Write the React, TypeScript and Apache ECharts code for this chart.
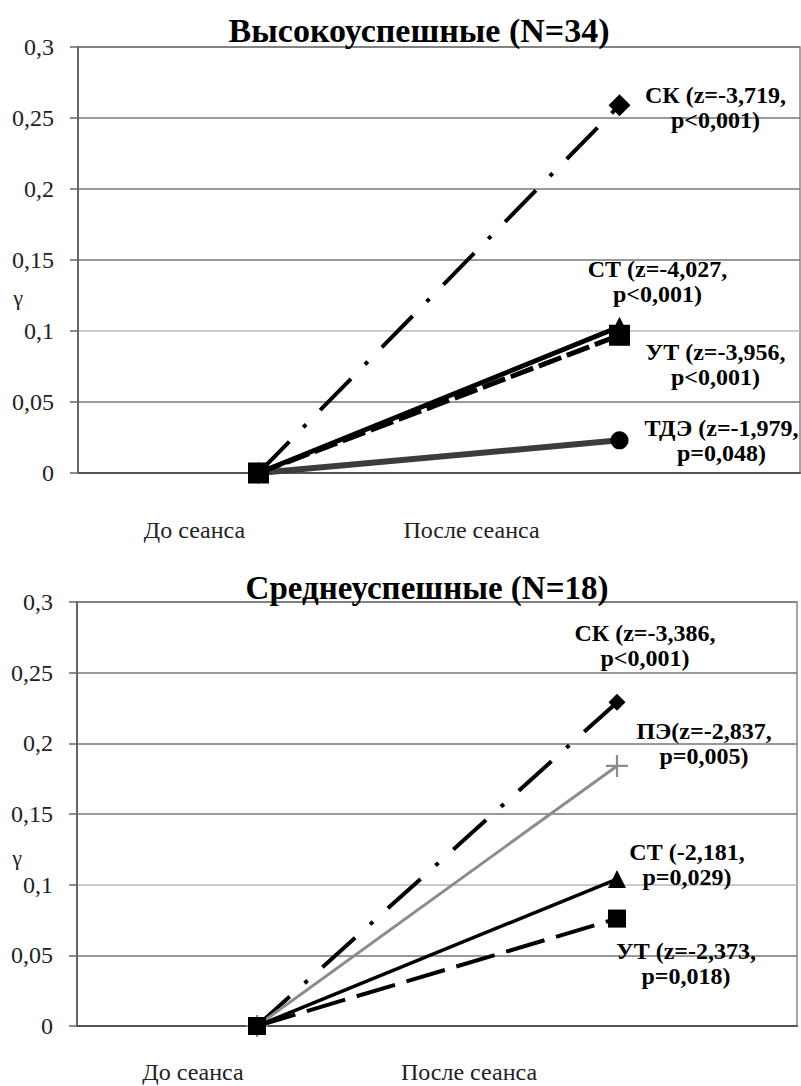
import React, { useEffect, useRef } from "react";
import * as echarts from "echarts";

const categories = ["До сеанса", "После сеанса"];
const topTitle = "Высокоуспешные (N=34)";
const bottomTitle = "Среднеуспешные (N=18)";
const axisName = "γ";

// Top chart (high-success group)
const topSK = [0, 0.259];
const topTDE = [0, 0.023];
const topST = [0, 0.103];
const topUT = [0, 0.097];
const topSKLabel = "СК (z=-3,719,\np<0,001)";
const topTDELabel = "ТДЭ (z=-1,979,\np=0,048)";
const topSTLabel = "СТ (z=-4,027,\np<0,001)";
const topUTLabel = "УТ (z=-3,956,\np<0,001)";

// Bottom chart (medium-success group)
const botSK = [0, 0.229];
const botPE = [0, 0.184];
const botST = [0, 0.104];
const botUT = [0, 0.076];
const botSKLabel = "СК (z=-3,386,\np<0,001)";
const botPELabel = "ПЭ(z=-2,837,\np=0,005)";
const botSTLabel = "СТ (-2,181,\np=0,029)";
const botUTLabel = "УТ (z=-2,373,\np=0,018)";

const FONT = "Liberation Serif";

const plusPath =
  "path://M9,0 L11,0 L11,9 L20,9 L20,11 L11,11 L11,20 L9,20 L9,11 L0,11 L0,9 L9,9 Z";

function mkSeries(
  name: string,
  values: number[],
  labelText: string,
  gridIdx: number,
  opts: {
    color: string;
    width: number;
    type: any;
    symbol: string;
    symbolSize: number;
    offset: [number, number];
    symbolColor?: string;
  }
) {
  const last = values.length - 1;
  return {
    name,
    type: "line",
    xAxisIndex: gridIdx,
    yAxisIndex: gridIdx,
    symbol: opts.symbol,
    symbolSize: opts.symbolSize,
    showAllSymbol: true,
    lineStyle: { color: opts.color, width: opts.width, type: opts.type, cap: "butt" },
    itemStyle: { color: opts.symbolColor || opts.color, borderWidth: 0 },
    z: 2,
    data: values.map((v, i) =>
      i === last
        ? {
            value: v,
            label: {
              show: true,
              formatter: labelText,
              position: "inside",
              offset: opts.offset,
              align: "center",
              verticalAlign: "middle",
              color: "#000",
              fontFamily: FONT,
              fontWeight: "bold",
              fontSize: 24,
              lineHeight: 25,
            },
          }
        : v
    ),
  };
}

export default function App() {
  const ref = useRef<HTMLDivElement>(null);
  useEffect(() => {
    document.body.style.margin = "0";
    const chart = echarts.init(ref.current!, undefined, { renderer: "svg" });
    const splitColors = ["#777", "#777", "#b8b8b8", "#777", "#777", "#777", "#777"];
    const option: any = {
      animation: false,
      backgroundColor: "#fff",
      textStyle: { fontFamily: FONT },
      title: [
        {
          text: topTitle,
          left: 414,
          top: 8,
          textAlign: "center",
          textStyle: { fontFamily: FONT, fontSize: 34, fontWeight: "bold", color: "#000" },
        },
        {
          text: bottomTitle,
          left: 422,
          top: 566,
          textAlign: "center",
          textStyle: { fontFamily: FONT, fontSize: 33, fontWeight: "bold", color: "#000" },
        },
      ],
      grid: [
        { left: 78, right: 1, top: 47, height: 426, show: true, borderColor: "#888", borderWidth: 1.5 },
        { left: 77, right: 4, top: 602, height: 424, show: true, borderColor: "#888", borderWidth: 1.5 },
      ],
      xAxis: [0, 1].map((i) => ({
        type: "category",
        gridIndex: i,
        data: categories,
        boundaryGap: true,
        axisTick: { show: false },
        axisLine: { show: true, lineStyle: { color: "#555", width: 2 } },
        splitLine: { show: false },
        axisLabel: {
          interval: 0,
          margin: i === 0 ? 45 : 34,
          formatter: (v: string, idx: number) => `{c${idx}|${v}}`,
          rich: {
            c0: { padding: [0, 128, 0, 0], fontFamily: FONT, fontSize: 24, color: "#222" },
            c1: { padding: [0, 296, 0, 0], fontFamily: FONT, fontSize: 24, color: "#222" },
          },
        },
      })),
      yAxis: [0, 1].map((i) => ({
        type: "value",
        gridIndex: i,
        min: 0,
        max: 0.3,
        interval: 0.05,
        name: "\n\n\n" + axisName,
        nameLocation: "middle",
        nameGap: 60,
        nameRotate: 0,
        nameMoveOverlap: false,
        nameTextStyle: {
          fontFamily: FONT,
          fontSize: 22,
          lineHeight: i === 0 ? 25 : 29,
          color: "#222",
          align: "center",
          verticalAlign: "middle",
        },
        axisLine: { show: true, lineStyle: { color: "#666", width: 2 } },
        axisTick: { show: true, length: 8, inside: false, lineStyle: { color: "#666", width: 1.5 } },
        axisLabel: {
          margin: 24,
          fontFamily: FONT,
          fontSize: 24,
          color: "#222",
          formatter: (v: number) => String(Math.round(v * 100) / 100).replace(".", ","),
        },
        splitLine: { show: true, lineStyle: { color: splitColors, width: 1.5 } },
      })),
      series: [
        mkSeries("СК", topSK, topSKLabel, 0, {
          color: "#000", width: 4, type: [44, 20, 4, 20], symbol: "diamond", symbolSize: 22, offset: [96, 2],
        }),
        mkSeries("ТДЭ", topTDE, topTDELabel, 0, {
          color: "#3c3c3c", width: 6, type: "solid", symbol: "circle", symbolSize: 18, offset: [102, 0], symbolColor: "#000",
        }),
        mkSeries("СТ", topST, topSTLabel, 0, {
          color: "#000", width: 5, type: "solid", symbol: "triangle", symbolSize: 20, offset: [38, -45],
        }),
        mkSeries("УТ", topUT, topUTLabel, 0, {
          color: "#000", width: 5, type: [24, 6], symbol: "rect", symbolSize: 21, offset: [96, 29],
        }),
        mkSeries("СК", botSK, botSKLabel, 1, {
          color: "#000", width: 4, type: [44, 20, 4, 20], symbol: "diamond", symbolSize: 17, offset: [28, -57],
        }),
        mkSeries("ПЭ", botPE, botPELabel, 1, {
          color: "#8c8c8c", width: 3, type: "solid", symbol: plusPath, symbolSize: 22, offset: [87, -22],
        }),
        mkSeries("СТ", botST, botSTLabel, 1, {
          color: "#000", width: 3.5, type: "solid", symbol: "triangle", symbolSize: 18, offset: [70, -15],
        }),
        mkSeries("УТ", botUT, botUTLabel, 1, {
          color: "#000", width: 4, type: [40, 12], symbol: "rect", symbolSize: 18, offset: [69, 45],
        }),
      ],
    };
    chart.setOption(option);
    return () => chart.dispose();
  }, []);
  return <div ref={ref} style={{ width: 801, height: 1086 }} />;
}
